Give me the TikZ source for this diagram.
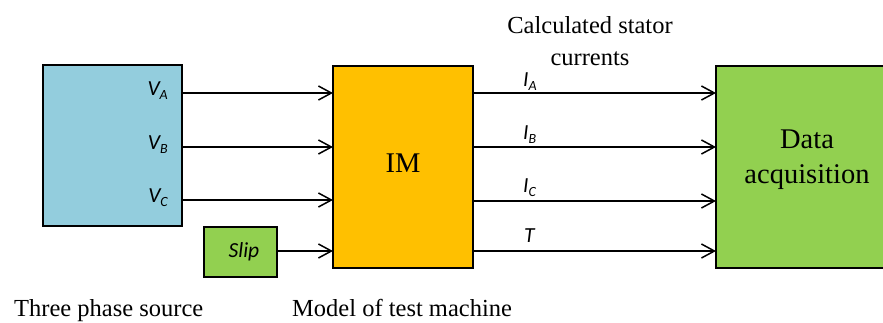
\documentclass[tikz,border=0pt]{standalone}
\usepackage{fontspec}
\setmainfont{Liberation Serif}
\newfontfamily\labfont{Carlito}
\usetikzlibrary{arrows.meta}
\definecolor{srcblue}{HTML}{93CDDD}
\definecolor{imorange}{HTML}{FFC000}
\definecolor{dagreen}{HTML}{92D050}
\newcommand{\lbl}[2]{{\labfont\itshape\fontsize{21.5}{23}\selectfont #1\raisebox{-4pt}{\fontsize{14}{14}\selectfont #2}}}
\begin{document}
\begin{tikzpicture}[x=1pt,y=-1pt,
  blk/.style={draw=black,line width=2pt,inner sep=0pt,outer sep=0pt},
  arr/.style={line width=1.5pt,-{Straight Barb[length=13pt,width=14pt,line width=1.5pt]}},
  captxt/.style={font=\fontsize{24.5}{32}\selectfont,inner sep=0pt},
  lab/.style={inner sep=0pt}]
\useasboundingbox (0,0) rectangle (883,322);
\clip (0,0) rectangle (883,322);
\node[blk,fill=srcblue,minimum width=139pt,minimum height=161pt] (src) at (112.5,145.5) {};
\node[blk,fill=imorange,minimum width=140pt,minimum height=202pt] (im) at (403,166.5) {};
\node[blk,fill=dagreen,minimum width=180pt,minimum height=202pt] (da) at (806,166.5) {};
\node[blk,fill=dagreen,minimum width=73pt,minimum height=50pt] (slip) at (240.5,252) {};
\node[inner sep=0pt] (sliptxt) at (244,252) {{\labfont\itshape\fontsize{21.5}{23}\selectfont Slip}};
\node[font=\fontsize{28.5}{34}\selectfont,inner sep=0pt] (imtxt) at (403,163) {IM};
\node[font=\fontsize{28.5}{35}\selectfont,align=center,inner sep=0pt] (datxt) at (807,160) {Data\\acquisition};
% source labels
\node[lab,anchor=base east] (va) at (168,95) {\lbl{V}{A}};
\node[lab,anchor=base east] (vb) at (168,149) {\lbl{V}{B}};
\node[lab,anchor=base east] (vc) at (168,202) {\lbl{V}{C}};
% arrows from source
\draw[arr] (src.east |- 0,93) -- (im.west |- 0,93);
\draw[arr] (src.east |- 0,147) -- (im.west |- 0,147);
\draw[arr] (src.east |- 0,200) -- (im.west |- 0,200);
\draw[arr] (slip.east |- 0,251) -- (im.west |- 0,251);
% arrows to data acquisition
\draw[arr] (im.east |- 0,93) -- (da.west |- 0,93);
\draw[arr] (im.east |- 0,147) -- (da.west |- 0,147);
\draw[arr] (im.east |- 0,201) -- (da.west |- 0,201);
\draw[arr] (im.east |- 0,251) -- (da.west |- 0,251);
\node[lab,anchor=base west] (ia) at (523,86) {\lbl{I}{A}};
\node[lab,anchor=base west] (ib) at (523,139) {\lbl{I}{B}};
\node[lab,anchor=base west] (ic) at (523,192) {\lbl{I}{C}};
\node[lab,anchor=base west] (t) at (524,242) {{\labfont\itshape\fontsize{21.5}{23}\selectfont T}};
% captions
\node[captxt,anchor=base] (calc1) at (590,33) {Calculated stator};
\node[captxt,anchor=base] (calc2) at (590,65) {currents};
\node[captxt,anchor=base west] (tps) at (14,316) {Three phase source};
\node[captxt,anchor=base west] (mtm) at (292,316) {Model of test machine};
\end{tikzpicture}
\end{document}
